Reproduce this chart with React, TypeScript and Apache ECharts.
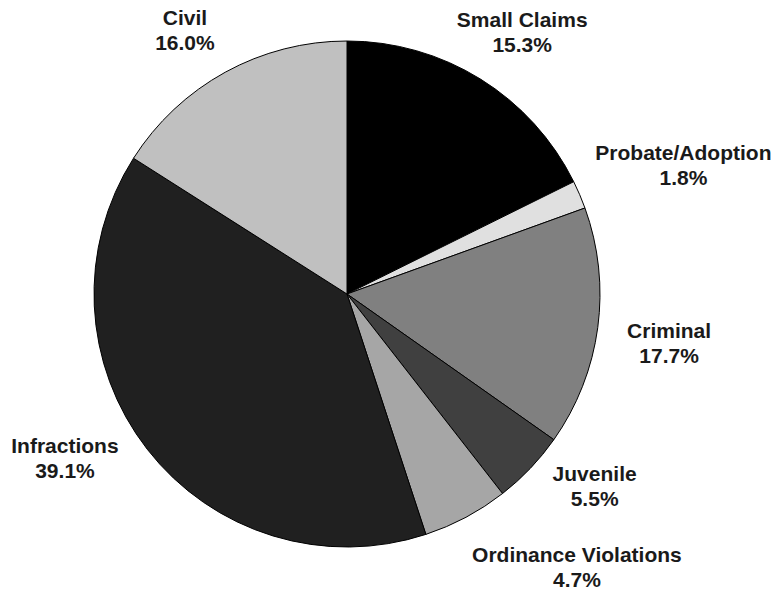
import React, { useEffect, useRef } from "react";
import * as echarts from "echarts";

const categories = [
  "Small Claims",
  "Probate/Adoption",
  "Criminal",
  "Juvenile",
  "Ordinance Violations",
  "Infractions",
  "Civil",
];
// slice sizes as drawn
const sliceValues = [17.7, 1.8, 15.3, 4.7, 5.5, 39.1, 16.0];
// percentages printed in the labels
const labelPercents = [15.3, 1.8, 17.7, 5.5, 4.7, 39.1, 16.0];
const sliceColors = ["#000000", "#e0e0e0", "#808080", "#404040", "#a6a6a6", "#202020", "#c0c0c0"];

// layout
const CX = 347;
const CY = 294;
const R = 253;
const LABEL_GAP = 29;
const labelNudgeX = [-8, -4, 1, 13, 48, -17, -12];
const labelNudgeY = [-1, -9, 8, -20, 2, -24, 5];

export default function App() {
  const ref = useRef<HTMLDivElement>(null);
  useEffect(() => {
    if (!ref.current) return;
    const chart = echarts.init(ref.current, null, { renderer: "svg" });
    const total = sliceValues.reduce((a, b) => a + b, 0);
    const mids: number[] = [];
    let acc = 0;
    sliceValues.forEach((v) => {
      mids.push(((acc + v / 2) / total) * Math.PI * 2);
      acc += v;
    });
    chart.setOption({
      animation: false,
      backgroundColor: "#ffffff",
      series: [
        {
          type: "pie",
          center: [CX, CY],
          radius: [0, R],
          startAngle: 90,
          clockwise: true,
          avoidLabelOverlap: false,
          silent: true,
          data: categories.map((name, i) => ({
            name,
            value: sliceValues[i],
            itemStyle: { color: sliceColors[i] },
          })),
          itemStyle: { borderColor: "#000000", borderWidth: 1 },
          label: {
            show: true,
            position: "outside",
            formatter: (p: any) => `${p.name}\n${labelPercents[p.dataIndex].toFixed(1)}%`,
            fontFamily: "'Liberation Sans', Arial, sans-serif",
            fontWeight: "bold",
            fontSize: 21,
            lineHeight: 25,
            color: "#1a1a1a",
            align: "center",
          },
          labelLine: { show: false },
          labelLayout: (params: any) => {
            const i = params.dataIndex;
            const a = mids[i];
            const ux = Math.sin(a);
            const uy = -Math.cos(a);
            const w = params.labelRect.width;
            const h = params.labelRect.height;
            const x = CX + (R + LABEL_GAP) * ux + (ux * w) / 2 + labelNudgeX[i];
            const y = CY + (R + LABEL_GAP) * uy + (uy * h) / 2 + labelNudgeY[i];
            return { x, y, align: "center", verticalAlign: "middle" };
          },
        },
      ],
    });
    return () => chart.dispose();
  }, []);
  return (
    <div
      ref={ref}
      style={{ position: "fixed", left: 0, top: 0, width: 781, height: 594 }}
    />
  );
}
